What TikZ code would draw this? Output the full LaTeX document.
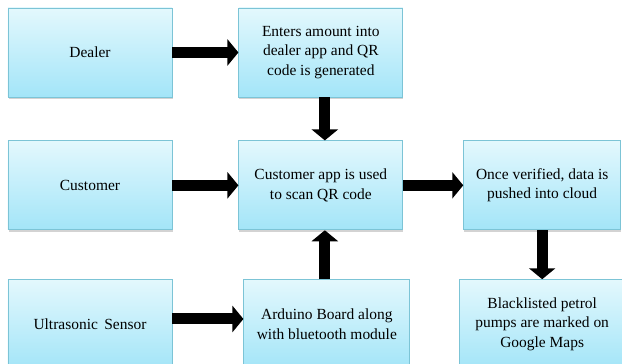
\documentclass[tikz,border=0pt]{standalone}
\usepackage{fontspec}
\setmainfont{Liberation Serif}
\usetikzlibrary{positioning}
\usetikzlibrary{arrows.meta}
\usetikzlibrary{shadows}
\definecolor{boxtop}{HTML}{E3F8FD}
\definecolor{boxbot}{HTML}{A3E5F8}
\definecolor{boxline}{HTML}{7CC4D6}
\tikzset{
	block/.style={
		rectangle,
		draw=boxline,
		line width=.6pt,
		top color=boxtop,
		bottom color=boxbot,
		align=center,
		minimum width=4.1cm,
		minimum height=2.225cm,
		inner sep=2pt,
		font=\fontsize{11}{14}\selectfont,
		drop shadow={shadow xshift=.4pt, shadow yshift=-1.2pt, opacity=.35}
	},
	bigarrow/.style={
		line width=.275cm,
		-{Triangle[width=.65cm,length=.275cm]}
	}
}

\begin{document}
\begin{tikzpicture}
		\useasboundingbox (0,0) rectangle (15.55,9.1);
		\clip (0,0) rectangle (15.55,9.1);
		\draw node[block] at (2.25,7.7875) (Dealer){Dealer};
		\draw node[block, right=1.65cm of Dealer](Enters){Enters amount into\\ dealer app and QR\\ code is generated};
		\draw node[block, below=1.075cm of Dealer](Customer){Customer};
		\draw node[block, right=1.65cm of Customer](CustApp){Customer app is used\\ to scan QR code};
		\draw node[block, right=1.5cm of CustApp, minimum width=3.925cm](Verified){Once verified, data is\\ pushed into cloud};
		\draw node[block, below=1.225cm of Customer](Sensor){Ultrasonic\, Sensor};
		\draw node[block, right=1.775cm of Sensor, minimum width=4.15cm](Arduino){Arduino Board along\\ with bluetooth module};
		\draw node[block, below=1.225cm of Verified, minimum width=4.15cm](Blacklist){Blacklisted petrol\\ pumps are marked on\\ Google Maps};
		
		\draw [bigarrow] (Dealer) -- (Enters);
		\draw [bigarrow] ([xshift=.1cm]Enters.south) -- ([xshift=.1cm]CustApp.north);
		\draw [bigarrow] (Customer) -- (CustApp);
		\draw [bigarrow] (CustApp) -- (Verified);
		\draw [bigarrow] ([yshift=.13cm]Sensor.east) -- ([yshift=.13cm]Arduino.west);
		\draw [bigarrow] ([xshift=.1cm]CustApp.south |- Arduino.north) -- ([xshift=.1cm]CustApp.south);
		\draw [bigarrow] (Verified) -- (Verified |- Blacklist.north);
	\end{tikzpicture}
\end{document}
